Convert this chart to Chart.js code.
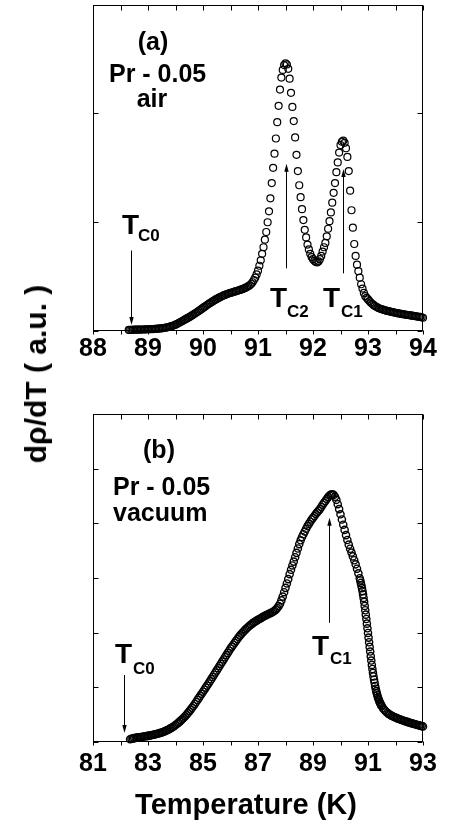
<!DOCTYPE html>
<html><head><meta charset="utf-8">
<script src="https://cdn.jsdelivr.net/npm/chart.js@4.4.0/dist/chart.umd.min.js"></script>
<style>
html,body{margin:0;padding:0;background:#fff;}
body{width:449px;height:827px;position:relative;overflow:hidden;font-family:"Liberation Sans",Arial,sans-serif;}
canvas{position:absolute;left:0;}
#cA{top:0;} #cB{top:380px;}
.ttl{position:absolute;font-weight:bold;color:#000;white-space:nowrap;line-height:1;}
#xt{left:246px;top:790px;font-size:29px;transform:translateX(-50%);}
#yt{left:36px;top:374px;font-size:30px;transform:translate(-50%,-50%) rotate(-90deg);}
</style></head><body>
<canvas id="cA" width="449" height="380"></canvas>
<canvas id="cB" width="449" height="447"></canvas>
<div class="ttl" id="yt">dρ/dT ( a.u. )</div>
<div class="ttl" id="xt">Temperature (K)</div>
<script>
// ---- panel (a): Pr - 0.05, air ----
const tempAir = [
88.65,88.675,88.7,88.725,88.75,88.775,88.8,88.825,88.85,88.875,
88.9,88.925,88.95,88.975,89,89.025,89.05,89.075,89.1,89.125,
89.15,89.175,89.2,89.225,89.25,89.275,89.3,89.325,89.35,89.375,
89.4,89.425,89.45,89.475,89.5,89.525,89.55,89.575,89.6,89.625,
89.65,89.675,89.7,89.725,89.75,89.775,89.8,89.825,89.85,89.875,
89.9,89.925,89.95,89.975,90,90.025,90.05,90.075,90.1,90.125,
90.15,90.175,90.2,90.225,90.25,90.275,90.3,90.325,90.35,90.375,
90.4,90.425,90.45,90.475,90.5,90.525,90.55,90.575,90.6,90.625,
90.65,90.675,90.7,90.725,90.75,90.775,90.8,90.825,90.85,90.875,
90.9,90.925,90.95,90.975,91,91.025,91.05,91.075,91.1,
91.125,91.15,91.175,91.2,91.225,91.25,91.275,91.3,91.325,91.35,
91.375,91.4,91.425,91.45,91.475,91.5,91.525,91.55,91.575,91.6,
91.625,91.65,91.675,91.7,91.725,91.75,91.775,91.8,91.825,91.85,
91.875,91.9,91.925,91.95,91.975,92,92.025,92.05,92.075,92.1,
92.125,92.15,92.175,92.2,92.225,92.25,92.275,92.3,92.325,92.35,
92.375,92.4,92.425,92.45,92.475,92.5,92.525,92.55,
92.575,92.6,92.625,92.65,92.675,92.7,92.725,92.75,92.775,92.8,
92.825,92.85,92.875,92.9,92.925,92.95,92.975,93,93.025,93.05,
93.075,93.1,93.125,93.15,93.175,93.2,93.225,93.25,93.275,93.3,
93.325,93.35,93.375,93.4,93.425,93.45,93.475,93.5,93.525,93.55,
93.575,93.6,93.625,93.65,93.675,93.7,93.725,93.75,93.775,93.8,
93.825,93.85,93.875,93.9,93.925,93.95,93.975,94];
const dAir = [
0.010,0.010,0.011,0.011,0.012,0.012,0.012,0.013,0.013,0.013,
0.014,0.014,0.015,0.015,0.016,0.016,0.017,0.018,0.018,0.019,
0.020,0.021,0.022,0.024,0.025,0.027,0.029,0.031,0.034,0.037,
0.040,0.044,0.048,0.053,0.058,0.064,0.071,0.078,0.085,0.092,
0.099,0.106,0.113,0.120,0.127,0.135,0.143,0.151,0.160,0.168,
0.177,0.185,0.194,0.203,0.212,0.221,0.230,0.239,0.248,0.256,
0.264,0.272,0.280,0.288,0.295,0.302,0.309,0.315,0.321,0.327,
0.332,0.337,0.342,0.346,0.350,0.354,0.358,0.362,0.366,0.370,
0.374,0.378,0.382,0.387,0.392,0.398,0.404,0.412,0.420,0.432,
0.448,0.468,0.490,0.520,0.555,0.600,0.650,0.710,0.770,
0.84,0.91,1.00,1.10,1.22,1.36,1.50,1.63,1.77,1.92,
2.07,2.22,2.33,2.40,2.445,2.46,2.45,2.41,2.32,2.19,
2.06,1.93,1.78,1.62,1.47,1.34,1.23,1.12,1.02,0.93,
0.86,0.795,0.75,0.71,0.68,0.66,0.645,0.635,0.63,0.64,
0.66,0.69,0.73,0.77,0.81,0.87,0.94,1.01,1.09,1.18,
1.27,1.36,1.46,1.55,1.64,1.71,1.74,1.75,
1.73,1.68,1.60,1.47,1.29,1.11,0.95,0.80,0.69,0.61,
0.55,0.49,0.43,0.39,0.35,0.32,0.305,0.29,0.275,0.262,
0.25,0.24,0.23,0.222,0.215,0.209,0.204,0.2,0.196,0.192,
0.188,0.185,0.182,0.179,0.176,0.173,0.17,0.167,0.165,0.162,
0.16,0.158,0.155,0.153,0.151,0.149,0.147,0.145,0.143,0.141,
0.139,0.137,0.135,0.133,0.131,0.129,0.126,0.122];

// ---- panel (b): Pr - 0.05, vacuum ----
const tempVac = [
82.35,82.4,82.45,82.5,82.55,82.6,82.65,82.7,82.75,82.8,82.85,82.9,82.95,
83,83.05,83.1,83.15,83.2,83.25,83.3,83.35,83.4,83.45,83.5,83.55,83.6,83.65,83.7,83.75,83.8,83.85,83.9,83.95,
84,84.05,84.1,84.15,84.2,84.25,84.3,84.35,84.4,84.45,84.5,84.55,84.6,84.65,84.7,84.75,84.8,84.85,84.9,84.95,
85,85.05,85.1,85.15,85.2,85.25,85.3,85.35,85.4,85.45,85.5,85.55,85.6,85.65,85.7,85.75,85.8,85.85,85.9,85.95,
86,86.05,86.1,86.15,86.2,86.25,86.3,86.35,86.4,86.45,86.5,86.55,86.6,86.65,86.7,86.75,86.8,86.85,86.9,86.95,
87,87.05,87.1,87.15,87.2,87.25,87.3,87.35,87.4,87.45,87.5,87.55,87.6,87.65,87.7,87.75,87.8,87.85,87.9,87.95,
88,88.05,88.1,88.15,88.2,88.25,88.3,88.35,88.4,88.45,88.5,88.55,88.6,88.65,88.7,88.75,88.8,88.85,88.9,88.95,
89,89.05,89.1,89.15,89.2,89.25,89.3,89.35,89.4,89.45,89.5,89.55,89.6,89.65,89.7,89.75,89.8,89.85,89.9,89.95,
90,90.05,90.1,90.15,90.2,90.25,90.3,90.35,90.4,90.45,90.5,90.55,90.6,90.65,90.7,
90.72,90.74,90.76,90.78,90.8,90.82,90.84,90.86,90.88,90.9,90.92,90.94,90.96,90.98,91,91.02,91.04,91.06,91.08,91.1,
91.12,91.14,91.16,91.18,91.2,91.22,91.24,91.26,91.28,91.3,91.32,91.34,91.36,91.38,91.4,91.42,91.44,91.46,91.48,91.5,
91.55,91.6,91.65,91.7,91.75,91.8,91.85,91.9,91.95,92,92.05,92.1,92.15,92.2,92.25,92.3,92.35,92.4,92.45,92.5,
92.55,92.6,92.65,92.7,92.75,92.8,92.85,92.9,92.95,93];
const dVac = [
0.050,0.060,0.066,0.071,0.076,0.080,0.084,0.088,0.092,0.096,0.100,0.104,0.108,
0.112,0.117,0.122,0.127,0.133,0.139,0.145,0.152,0.159,0.167,0.175,0.184,0.194,0.205,0.217,0.230,0.244,0.259,0.274,0.291,
0.310,0.330,0.350,0.372,0.395,0.420,0.445,0.472,0.500,0.530,0.560,0.592,0.625,0.660,0.695,0.732,0.770,0.807,0.845,0.882,
0.920,0.957,0.995,1.032,1.070,1.110,1.150,1.190,1.230,1.270,1.310,1.350,1.390,1.430,1.470,1.510,1.550,1.590,1.630,1.670,
1.710,1.745,1.780,1.815,1.850,1.885,1.920,1.950,1.980,2.008,2.035,2.060,2.085,2.108,2.130,2.150,2.170,2.188,2.205,2.220,
2.235,2.250,2.265,2.280,2.295,2.308,2.320,2.333,2.345,2.358,2.370,2.383,2.400,2.422,2.450,2.485,2.530,2.590,2.660,2.740,
2.820,2.900,2.980,3.070,3.150,3.230,3.300,3.380,3.460,3.540,3.620,3.690,3.750,3.800,3.850,3.900,3.950,3.990,4.030,4.070,
4.100,4.135,4.170,4.200,4.230,4.260,4.300,4.340,4.375,4.410,4.445,4.480,4.510,4.525,4.530,4.520,4.485,4.430,4.350,4.260,
4.165,4.070,3.975,3.880,3.785,3.695,3.610,3.535,3.465,3.395,3.325,3.250,3.170,3.085,2.995,
2.955,2.910,2.865,2.815,2.760,2.700,2.635,2.565,2.490,2.410,2.330,2.250,2.165,2.080,1.995,1.910,1.825,1.740,1.655,1.570,
1.490,1.410,1.335,1.265,1.200,1.140,1.085,1.025,0.975,0.930,0.890,0.855,0.820,0.790,0.762,0.737,0.714,0.693,0.674,0.656,
0.615,0.585,0.558,0.535,0.515,0.498,0.483,0.470,0.458,0.447,0.436,0.426,0.416,0.406,0.397,0.388,0.380,0.372,0.364,0.356,
0.348,0.340,0.333,0.326,0.319,0.312,0.305,0.298,0.291,0.285];

// ---- axes ----
const xTicksAir = [88,88.5,89,89.5,90,90.5,91,91.5,92,92.5,93,93.5,94];
const xLabelsAir = ['88','89','90','91','92','93','94'];
const yTicksAir = [0,1,2,3];
const xTicksVac = [81,82,83,84,85,86,87,88,89,90,91,92,93];
const xLabelsVac = ['81','83','85','87','89','91','93'];
const yTicksVac = [0,1,2,3,4,5,6];

const FONT = '"Liberation Sans", Arial, Helvetica, sans-serif';

function decor(cfg){
  return {
    id:'decor',
    afterDraw(chart){
      const {ctx, chartArea:a, scales:{x,y}} = chart;
      ctx.save();
      ctx.strokeStyle = '#000'; ctx.fillStyle = '#000'; ctx.lineWidth = 1;
      const L = Math.round(a.left)+0.5, R = Math.round(a.right)-0.5, T = Math.round(a.top)+0.5, B = Math.round(a.bottom)-0.5;
      ctx.strokeRect(L, T, R-L, B-T);
      ctx.beginPath();
      cfg.xTicks.forEach(v=>{
        const px = Math.round(x.getPixelForValue(v))+0.5;
        ctx.moveTo(px,B); ctx.lineTo(px,B+cfg.tickOut);
        ctx.moveTo(px,T); ctx.lineTo(px,T+cfg.tickIn);
      });
      cfg.yTicks.forEach(v=>{
        const py = Math.round(y.getPixelForValue(v))+0.5;
        ctx.moveTo(L,py); ctx.lineTo(L+cfg.tickIn,py);
        ctx.moveTo(R,py); ctx.lineTo(R-cfg.tickIn,py);
      });
      ctx.stroke();
      // arrows
      cfg.arrows.forEach(ar=>{
        const px = Math.round(x.getPixelForValue(ar.x))+0.5;
        const p1 = y.getPixelForValue(ar.from), p2 = y.getPixelForValue(ar.to);
        const dir = p2 > p1 ? 1 : -1;
        ctx.beginPath(); ctx.lineWidth = 1;
        ctx.moveTo(px,p1); ctx.lineTo(px,p2 - dir*6); ctx.stroke();
        ctx.beginPath();
        ctx.moveTo(px,p2); ctx.lineTo(px-2.2,p2-dir*8); ctx.lineTo(px+2.2,p2-dir*8); ctx.closePath(); ctx.fill();
      });
      // texts
      cfg.texts.forEach(t=>{
        ctx.font = 'bold '+t.size+'px '+FONT;
        ctx.textAlign = t.align || 'left';
        ctx.textBaseline = 'alphabetic';
        ctx.fillText(t.t, t.x, t.y);
      });
      ctx.restore();
    }
  };
}

function makeChart(id, temps, vals, o){
  const n = Math.min(temps.length, vals.length);
  const pts = [];
  for (let i=0;i<n;i++) pts.push({x:temps[i], y:vals[i]});
  return new Chart(document.getElementById(id), {
    type:'scatter',
    data:{datasets:[{data:pts, showLine:false, pointStyle:'circle', pointRadius:o.r, pointBorderWidth:o.bw,
      pointBorderColor:'#000', pointBackgroundColor:'rgba(255,255,255,0)', pointHoverRadius:o.r, clip:false}]},
    options:{
      responsive:false, maintainAspectRatio:false, animation:false, events:[],
      layout:{padding:{left:93, right:26, top:o.padTop, bottom:0}},
      plugins:{legend:{display:false}, tooltip:{enabled:false}},
      scales:{
        x:{type:'linear', min:o.xMin, max:o.xMax,
          grid:{display:false, drawTicks:false}, border:{display:false},
          afterBuildTicks:s=>{ s.ticks = o.xTicks.map(v=>({value:v})); },
          afterFit:s=>{ s.height = o.axisH; },
          ticks:{autoSkip:false, maxRotation:0, padding:o.labPad, color:'#000',
            font:{family:FONT, size:25, weight:'bold'},
            callback:v=>{ const s = String(Math.round(v*100)/100); return o.xLabels.includes(s) ? s : ''; }}},
        y:{type:'linear', min:0, max:o.yMax, display:false}
      }
    },
    plugins:[decor({xTicks:o.xTicks, yTicks:o.yTicks, tickIn:5, tickOut:4, arrows:o.arrows, texts:o.texts})]
  });
}

makeChart('cA', tempAir, dAir, {
  xMin:88, xMax:94, yMax:3, padTop:3, axisH:49, labPad:3, r:3.5, bw:1.2,
  xTicks:xTicksAir, xLabels:xLabelsAir, yTicks:yTicksAir,
  arrows:[{x:88.685, from:0.74, to:0.055},{x:91.50, from:0.576, to:1.537},{x:92.55, from:0.53, to:1.49}],
  texts:[
    {t:'(a)', x:153, y:50, size:25, align:'center'},
    {t:'Pr - 0.05', x:109, y:82, size:25},
    {t:'air', x:152, y:107, size:25, align:'center'},
    {t:'T', x:122, y:234, size:28},{t:'C0', x:138, y:241, size:17},
    {t:'T', x:270, y:307, size:28},{t:'C2', x:287, y:317, size:17},
    {t:'T', x:323, y:307, size:28},{t:'C1', x:341, y:317, size:17}
  ]
});

makeChart('cB', tempVac, dVac, {
  xMin:81, xMax:93, yMax:6, padTop:34, axisH:85, labPad:7, r:3.6, bw:1.4,
  xTicks:xTicksVac, xLabels:xLabelsVac, yTicks:yTicksVac,
  arrows:[{x:82.145, from:1.225, to:0.165},{x:89.59, from:2.18, to:4.10}],
  texts:[
    {t:'(b)', x:159, y:78, size:25, align:'center'},
    {t:'Pr - 0.05', x:113, y:115, size:25},
    {t:'vacuum', x:113, y:141, size:25},
    {t:'T', x:115, y:283, size:28},{t:'C0', x:133, y:294, size:17},
    {t:'T', x:312, y:275, size:28},{t:'C1', x:330, y:284, size:17}
  ]
});
</script>
</body></html>
